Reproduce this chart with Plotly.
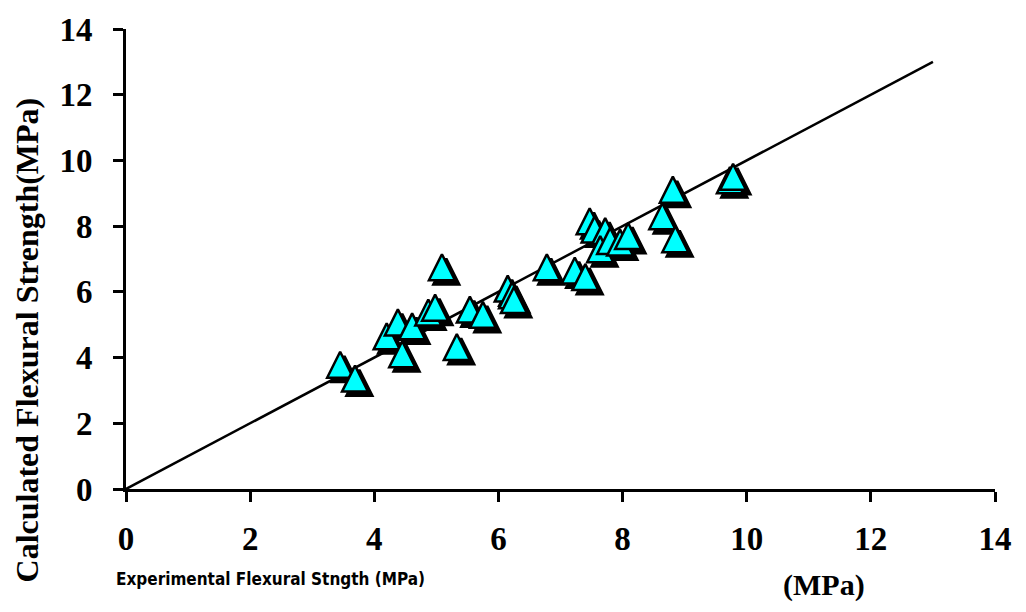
import plotly.graph_objects as go

# Experimental vs calculated flexural strength (MPa)
experimental = [3.45, 3.69, 4.20, 4.38, 4.45, 4.61, 4.87, 4.98, 5.09, 5.33,
                5.54, 5.75, 6.15, 6.22, 6.25, 6.78, 7.23, 7.40, 7.47, 7.55,
                7.72, 7.64, 7.80, 7.96, 8.09, 8.64, 8.81, 8.85, 9.73, 9.78]
calculated = [3.78, 3.36, 4.65, 5.07, 4.10, 4.95, 5.37, 5.52, 6.75, 4.32,
              5.46, 5.30, 6.10, 5.90, 5.75, 6.75, 6.65, 6.45, 8.15, 7.90,
              7.85, 7.30, 7.55, 7.50, 7.70, 8.30, 9.11, 7.60, 9.40, 9.50]
line_x = [0, 13]
line_y = [0, 13]
tick_vals = [0, 2, 4, 6, 8, 10, 12, 14]

serif = "Times New Roman, Liberation Serif, serif"
tri = dict(symbol="arrow-down", angle=180, standoff=13, size=26)

fig = go.Figure()
fig.add_trace(go.Scatter(x=line_x, y=line_y, mode="lines",
                         line=dict(color="black", width=2.5), showlegend=False,
                         hoverinfo="skip"))
# shadow (offset overlay axes)
fig.add_trace(go.Scatter(x=experimental, y=calculated, mode="markers",
                         xaxis="x2", yaxis="y2",
                         marker=dict(**tri, color="black",
                                     line=dict(color="black", width=2.5)),
                         showlegend=False, hoverinfo="skip"))
# main markers (overlay axes identical to main axes, drawn above shadow)
fig.add_trace(go.Scatter(x=experimental, y=calculated, mode="markers",
                         xaxis="x3", yaxis="y3",
                         marker=dict(**tri, color="#00FFFF",
                                     line=dict(color="black", width=2.5)),
                         showlegend=False))

axis_common = dict(range=[0, 14], tickvals=tick_vals, ticks="outside", ticklen=10,
                   tickwidth=2.5, tickcolor="black", showline=True, linecolor="black",
                   linewidth=3, showgrid=False, zeroline=False,
                   tickfont=dict(family=serif, size=33, color="black", weight="bold"))

fig.update_layout(
    width=1026, height=612,
    margin=dict(l=126, r=31, t=22, b=123),
    paper_bgcolor="white", plot_bgcolor="white",
    xaxis=dict(**axis_common, ticklabelstandoff=8),
    yaxis=dict(**axis_common, ticklabelstandoff=14),
    xaxis2=dict(range=[-0.07, 13.93], overlaying="x", visible=False),
    yaxis2=dict(range=[0.13, 14.13], overlaying="y", visible=False),
    xaxis3=dict(range=[0, 14], overlaying="x", visible=False),
    yaxis3=dict(range=[0, 14], overlaying="y", visible=False),
    annotations=[
        dict(text="Calculated Flexural Strength(MPa)", xref="paper", yref="paper",
             x=-0.114, y=0.325, xanchor="center", yanchor="middle", textangle=-90,
             showarrow=False,
             font=dict(family=serif, size=32, color="black", weight="bold")),
        dict(text="Experimental Flexural Stngth (MPa)", xref="paper", yref="paper",
             x=(270 - 126) / 869, y=-(580 - 489) / 467, xanchor="center", yanchor="middle",
             showarrow=False,
             font=dict(family="DejaVu Sans Condensed, Open Sans, sans-serif", size=17,
                       color="black", weight="bold")),
        dict(text="(MPa)", xref="paper", yref="paper",
             x=(824 - 126) / 869, y=-(586 - 489) / 467, xanchor="center", yanchor="middle",
             showarrow=False,
             font=dict(family=serif, size=30, color="black", weight="bold")),
    ],
)

fig.write_html("out.html")
